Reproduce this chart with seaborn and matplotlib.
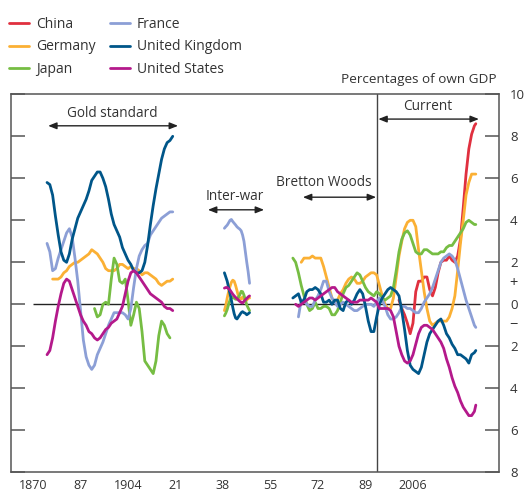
import pandas as pd
import matplotlib
matplotlib.use("Agg")
import matplotlib.pyplot as plt
import seaborn as sns

# Current account balances, percentages of own GDP
COUNTRIES = ["China", "Germany", "Japan", "France", "United Kingdom", "United States"]
COLOURS = ["#e0303f", "#fbb034", "#76bd43", "#8c9fd6", "#005689", "#b4198b"]

# x positions follow the chart's own axis (labelled 1870, 87, 1904, ...)
GOLD_YEARS = list(range(1875, 1921))
GOLD_YEARS_DE = list(range(1877, 1921))
GOLD_YEARS_JP = list(range(1892, 1920))
IW_YEARS = [1938.5, 1939.0, 1939.5, 1940.0, 1940.5, 1941.0, 1941.5, 1942.0, 1942.5, 1943.0,
            1943.5, 1944.0, 1944.5, 1945.0, 1945.5, 1946.0, 1946.5, 1947.0, 1947.5]

# Gold standard
uk_gold = [5.8, 5.7, 5.2, 4.2, 3.3, 2.5, 2.1, 2.0, 2.4, 3.1, 3.6, 4.1, 4.4, 4.7, 5.0, 5.4,
           5.9, 6.1, 6.3, 6.3, 6.0, 5.6, 5.0, 4.3, 3.8, 3.5, 3.2, 2.7, 2.4, 2.1, 1.9, 1.6,
           1.5, 1.5, 1.6, 2.0, 2.8, 3.8, 4.7, 5.5, 6.2, 6.9, 7.4, 7.7, 7.8, 8.0]
fr_gold = [2.9, 2.5, 1.6, 1.7, 2.2, 2.6, 3.0, 3.4, 3.6, 3.2, 2.2, 1.1, -0.3, -1.7, -2.5, -2.9,
           -3.1, -2.9, -2.4, -2.1, -1.8, -1.4, -1.0, -0.7, -0.4, -0.4, -0.4, -0.4, -0.5, -0.7,
           -0.2, 0.8, 1.7, 2.3, 2.6, 2.8, 2.9, 3.3, 3.5, 3.7, 3.9, 4.1, 4.2, 4.3, 4.4, 4.4]
de_gold = [1.2, 1.2, 1.2, 1.3, 1.5, 1.6, 1.8, 1.9, 2.0, 2.0, 2.1, 2.2, 2.3, 2.4, 2.6, 2.5,
           2.4, 2.2, 2.0, 1.7, 1.6, 1.6, 1.6, 1.7, 1.9, 1.9, 1.8, 1.7, 1.8, 1.7, 1.7, 1.6,
           1.4, 1.5, 1.5, 1.4, 1.3, 1.2, 1.0, 0.9, 1.0, 1.1, 1.1, 1.2]
us_gold = [-2.4, -2.2, -1.6, -0.8, -0.1, 0.5, 1.0, 1.2, 1.1, 0.7, 0.3, -0.1, -0.5, -0.8, -1.0,
           -1.3, -1.4, -1.6, -1.7, -1.6, -1.4, -1.2, -1.1, -0.9, -0.8, -0.7, -0.4, -0.1, 0.5,
           1.1, 1.5, 1.6, 1.5, 1.3, 1.1, 0.9, 0.7, 0.5, 0.4, 0.3, 0.2, 0.1, -0.1, -0.2, -0.2, -0.3]
jp_gold = [-0.2, -0.6, -0.5, 0.0, 0.1, 0.0, 1.2, 2.2, 1.9, 1.1, 1.0, 1.2, 0.2, -1.0, -0.5,
           0.1, -0.2, -1.3, -2.7, -2.9, -3.1, -3.3, -2.7, -1.5, -0.8, -1.0, -1.4, -1.6]

# Inter-war
uk_iw = [1.5, 1.3, 1.1, 0.8, 0.5, 0.2, -0.15, -0.45, -0.65, -0.7, -0.6, -0.5, -0.4, -0.35,
         -0.4, -0.43, -0.5, -0.45, -0.4]
de_iw = [-0.3, -0.05, 0.3, 0.6, 0.85, 1.05, 1.15, 1.1, 0.9, 0.65, 0.4, 0.25, 0.25, 0.35,
         0.25, 0.15, 0.2, 0.3, 0.3]
jp_iw = [-0.55, -0.42, -0.25, 0.0, 0.2, 0.34, 0.33, 0.29, 0.24, 0.24, 0.33, 0.45, 0.62, 0.6,
         0.44, 0.2, -0.03, -0.17, -0.3]
us_iw = [0.77, 0.8, 0.8, 0.74, 0.68, 0.58, 0.48, 0.4, 0.33, 0.27, 0.2, 0.14, 0.09, 0.06,
         0.14, 0.22, 0.28, 0.35, 0.4]
fr_iw = [3.62, 3.7, 3.77, 3.88, 4.0, 4.04, 3.94, 3.86, 3.78, 3.69, 3.63, 3.58, 3.5, 3.3,
         3.0, 2.5, 2.0, 1.55, 1.0]

# Bretton Woods and current regime (one run each, to the end of the axis)
uk_modern_start, de_modern_start, jp_modern_start = 1963, 1966, 1963
fr_modern_start, us_modern_start, cn_modern_start = 1965, 1964, 2001
uk_modern = [0.3, 0.4, 0.5, 0.1, 0.2, 0.6, 0.7, 0.7, 0.8, 0.7, 0.5, 0.1, 0.1, 0.2, 0.0, 0.2,
             0.2, -0.2, -0.3, 0.1, 0.2, 0.0, 0.2, 0.5, 0.7, 0.5, -0.1, -0.8,
             -1.3, -1.3, -0.6, 0.0, 0.3, 0.5, 0.7, 0.8, 0.7, 0.6, 0.4, -0.3, -1.2, -2.2, -2.9,
             -3.1, -3.2, -3.3, -3.0, -2.4, -1.8, -1.4, -1.2, -1.0, -0.8, -0.7, -1.0, -1.4,
             -1.6, -1.9, -2.1, -2.4, -2.4, -2.5, -2.6, -2.8, -2.4, -2.3, -2.2]
de_modern = [2.0, 2.2, 2.2, 2.2, 2.3, 2.2, 2.2, 2.2, 1.8, 1.3, 0.8, 0.3, 0.1, 0.2, 0.5, 0.7,
             1.0, 1.2, 1.3, 1.2, 1.0, 1.0, 1.1, 1.3, 1.4,
             1.5, 1.5, 1.4, 0.9, 0.4, 0.0, -0.2, -0.2, 0.3, 1.3, 2.3, 3.0, 3.6, 3.9, 4.0, 4.0,
             3.7, 2.6, 1.6, 0.6, -0.2, -0.8, -1.0, -0.9, -0.8, -0.8, -0.8, -0.8, -0.6, -0.2,
             0.4, 1.6, 2.9, 4.0, 5.2, 5.8, 6.2, 6.2, 6.2]
jp_modern = [2.2, 2.0, 1.5, 0.9, 0.4, 0.0, -0.3, -0.2, 0.1, -0.2, -0.2, -0.1, -0.1, -0.2, -0.5,
             -0.5, -0.3, 0.1, 0.5, 0.8, 0.9, 1.1, 1.3, 1.5, 1.4, 1.1, 0.8, 0.6,
             0.5, 0.4, 0.6, 0.5, 0.3, 0.2, 0.3, 0.4, 0.8, 1.6, 2.5, 3.1, 3.4, 3.5, 3.3, 2.9,
             2.5, 2.4, 2.4, 2.6, 2.6, 2.5, 2.4, 2.4, 2.4, 2.5, 2.5, 2.7, 2.8, 2.8, 3.0, 3.2,
             3.4, 3.6, 3.9, 4.0, 3.9, 3.8, 3.8]
fr_modern = [-0.6, 0.2, 0.2, 0.0, -0.1, -0.1, 0.2, 0.4, 0.7, 1.1, 1.1, 0.6, 0.3, 0.1, -0.1,
             0.0, 0.1, 0.0, -0.1, -0.2, -0.3, -0.3, -0.2, -0.1, 0.0, 0.0,
             0.0, -0.1, 0.1, 0.3, 0.2, -0.1, -0.5, -0.7, -0.7, -0.6, -0.4, -0.1, -0.1, -0.2,
             -0.2, -0.3, -0.4, -0.4, -0.2, 0.1, 0.3, 0.5, 0.8, 1.2, 1.6, 2.0, 2.2, 2.3, 2.4,
             2.3, 2.1, 1.7, 1.2, 0.7, 0.2, -0.2, -0.6, -1.0, -1.1]
us_modern = [0.0, -0.1, 0.0, 0.1, 0.2, 0.3, 0.3, 0.2, 0.3, 0.4, 0.5, 0.6, 0.7, 0.8, 0.8, 0.6,
             0.5, 0.4, 0.3, 0.2, 0.1, 0.1, 0.1, 0.2, 0.2, 0.2, 0.2,
             0.3, 0.2, 0.1, -0.2, -0.2, -0.2, -0.2, -0.3, -0.6, -1.3, -2.0, -2.4, -2.7, -2.8,
             -2.7, -2.4, -1.9, -1.4, -1.1, -1.0, -1.0, -1.1, -1.2, -1.4, -1.6, -1.8, -2.1,
             -2.6, -3.0, -3.5, -3.9, -4.2, -4.6, -4.9, -5.1, -5.3, -5.3, -5.1, -4.8]
cn_modern = [0.2, -0.2, -0.5, -0.9, -1.4, -0.9, 0.6, 1.1, 1.1, 1.3, 1.3, 0.7, 0.4, 0.8, 1.5,
             2.0, 2.1, 2.1, 2.3, 2.1, 2.0, 2.3, 3.1, 4.6, 6.2, 7.4, 8.1, 8.5, 8.6]

X_TICKS = [1870, 1887, 1904, 1921, 1938, 1955, 1972, 1989, 2006]
X_LABELS = ["1870", "87", "1904", "21", "38", "55", "72", "89", "2006"]
Y_TICKS = [10, 8, 6, 4, 2, 0, -2, -4, -6, -8]
Y_LABELS = ["10", "8", "6", "4", "2", "0", "2", "4", "6", "8"]


def modern_years(start):
    return list(range(start, 2029)) + [2028.5]


segments = [
    ("United Kingdom", "gold", GOLD_YEARS, uk_gold),
    ("France", "gold", GOLD_YEARS, fr_gold),
    ("Germany", "gold", GOLD_YEARS_DE, de_gold),
    ("United States", "gold", GOLD_YEARS, us_gold),
    ("Japan", "gold", GOLD_YEARS_JP, jp_gold),
    ("United Kingdom", "interwar", IW_YEARS, uk_iw),
    ("Germany", "interwar", IW_YEARS, de_iw),
    ("Japan", "interwar", IW_YEARS, jp_iw),
    ("United States", "interwar", IW_YEARS, us_iw),
    ("France", "interwar", IW_YEARS, fr_iw),
    ("United Kingdom", "modern", modern_years(uk_modern_start), uk_modern),
    ("Germany", "modern", modern_years(de_modern_start), de_modern),
    ("Japan", "modern", modern_years(jp_modern_start), jp_modern),
    ("France", "modern", modern_years(fr_modern_start), fr_modern),
    ("United States", "modern", modern_years(us_modern_start), us_modern),
    ("China", "modern", modern_years(cn_modern_start), cn_modern),
]

rows = []
for country, seg, years, values in segments:
    for yr, v in zip(years, values):
        rows.append({"country": country, "segment": seg, "year": yr, "value": v})
df = pd.DataFrame(rows)

sns.set_style("white")
plt.rcParams["font.family"] = ["Open Sans", "DejaVu Sans"]

fig = plt.figure(figsize=(5.25, 4.93), dpi=100)
ax = fig.add_axes([11 / 525, 20.7 / 493, 488 / 525, 378 / 493])

ax.hlines(0, 1870, 2030, color="#222222", lw=1.0, zorder=1)
ax.axvline(1993.1, color="#444444", lw=1.0, zorder=1)

sns.lineplot(data=df, x="year", y="value", hue="country", hue_order=COUNTRIES,
             palette=COLOURS, units="segment", estimator=None, sort=False,
             lw=2.0, ax=ax, zorder=3)

ax.set_xlim(1862.1, 2036.8)
ax.set_ylim(-8, 10)
ax.set_xlabel("")
ax.set_ylabel("")

for s in ax.spines.values():
    s.set_color("#555555")
    s.set_linewidth(1.1)
    s.set_visible(True)

ax.set_xticks(X_TICKS)
ax.set_xticklabels(X_LABELS)
ax.set_yticks(Y_TICKS)
ax.set_yticklabels(Y_LABELS)
ax.tick_params(axis="x", direction="in", length=9.5, width=1.1, color="#555555",
               labelsize=9, pad=5, labelcolor="#333333")
ax.tick_params(axis="y", direction="in", length=10, width=1.1, color="#555555",
               left=True, right=True, labelleft=False, labelright=True,
               labelsize=9.5, pad=8, labelcolor="#333333")

trans = ax.get_yaxis_transform()
ax.text(1.029, 1, "+", transform=trans, ha="center", va="center", fontsize=10.5, color="#333333")
ax.text(1.029, -1, "\u2212", transform=trans, ha="center", va="center", fontsize=10.5, color="#333333")

arrow = dict(arrowstyle="<|-|>,head_length=0.5,head_width=0.2", color="#222222",
             lw=1.0, shrinkA=0, shrinkB=0)
periods = [
    ("Gold standard", 1875.4, 1921.9, 8.5, 1898.3, 9.1),
    ("Inter-war", 1932.6, 1952.7, 4.5, 1942.3, 5.15),
    ("Bretton Woods", 1966.6, 1992.8, 5.1, 1974.2, 5.78),
    ("Current", 1993.6, 2029.6, 8.82, 2011.4, 9.4),
]
for label, x0, x1, ya, xt, yt in periods:
    ax.annotate("", xy=(x1, ya), xytext=(x0, ya), arrowprops=arrow)
    ax.text(xt, yt, label, ha="center", va="center", fontsize=9.8, color="#333333")

fig.text(497 / 525, 1 - 80 / 493, "Percentages of own GDP", ha="right", va="center",
         fontsize=9.7, color="#333333")

sns.move_legend(ax, "upper left", bbox_to_anchor=(-0.004, 1.205), ncol=2, title=None,
                frameon=False, fontsize=10, handlelength=1.45, handletextpad=0.5,
                columnspacing=1.0, labelspacing=0.55, borderpad=0, borderaxespad=0)
for t in ax.get_legend().get_texts():
    t.set_color("#333333")

fig.savefig("out.png", dpi=100)
